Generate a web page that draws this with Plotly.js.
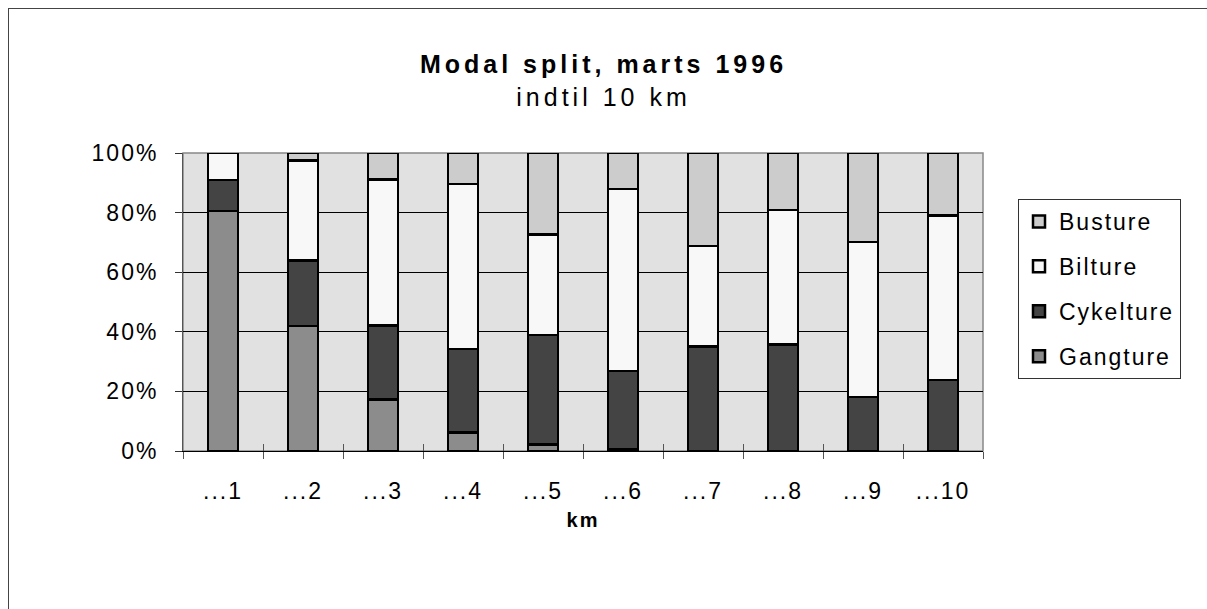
<!DOCTYPE html>
<html>
<head>
<meta charset="utf-8">
<script src="https://cdn.plot.ly/plotly-3.0.1.min.js"></script>
<style>
  html, body { margin: 0; padding: 0; background: #fff; }
  #frame { position: absolute; left: 8px; top: 8px; width: 1400px; height: 800px; border: 1px solid #444; }
  #chart { position: absolute; left: 0; top: 0; width: 1207px; height: 609px; }
  text { letter-spacing: 2px; }
  .gtitle, .gtitle tspan { letter-spacing: 4px; }
</style>
</head>
<body>
<div id="frame"></div>
<div id="chart"></div>
<script>
const categories = ['...1', '...2', '...3', '...4', '...5', '...6', '...7', '...8', '...9', '...10'];
const gangture  = [80.6, 42.0, 17.2, 6.2, 2.1, 0.5, null, null, null, null];
const cykelture = [10.4, 21.9, 24.9, 28.1, 36.9, 26.4, 35.1, 35.8, 18.2, 23.8];
const bilture   = [9.0, 33.6, 49.0, 55.3, 33.7, 61.1, 33.7, 45.0, 52.0, 55.3];
const busture   = [null, 2.5, 8.9, 10.4, 27.3, 12.0, 31.2, 19.2, 29.8, 20.9];
const yTicks = [0, 20, 40, 60, 80, 100];

const series = [
  {name: 'Gangture', y: gangture, color: '#8c8c8c', rank: 4},
  {name: 'Cykelture', y: cykelture, color: '#444444', rank: 3},
  {name: 'Bilture', y: bilture, color: '#f8f8f8', rank: 2},
  {name: 'Busture', y: busture, color: '#cccccc', rank: 1}
];

const font = 'Liberation Sans, Arial, sans-serif';

const traces = series.map(s => ({
  type: 'bar', name: s.name, x: categories, y: s.y,
  legendgroup: s.name, legendrank: s.rank,
  marker: {color: s.color, line: {color: '#000', width: 2.5}},
  hoverinfo: 'skip'
}));
// overlay axis to get ticks crossing the x axis line
traces.push({type: 'bar', x: categories, y: categories.map(() => null), xaxis: 'x2', showlegend: false, hoverinfo: 'skip'});

const layout = {
  width: 1207, height: 609,
  paper_bgcolor: 'rgba(0,0,0,0)',
  plot_bgcolor: '#e1e1e1',
  margin: {l: 183, r: 224, t: 153, b: 158},
  barmode: 'stack',
  bargap: 0.62,
  showlegend: true,
  font: {family: font, size: 23, color: '#000'},
  title: {
    text: '<b>Modal split, marts 1996</b><br>indtil 10 km',
    font: {family: font, size: 25, color: '#000'},
    x: 0.5, xref: 'container', xanchor: 'center',
    y: 1 - 73/609, yref: 'container', yanchor: 'top'
  },
  xaxis: {
    type: 'category', categoryorder: 'array', categoryarray: categories,
    range: [-0.5, 9.5],
    showline: true, linecolor: '#000', linewidth: 1,
    ticks: 'outside', ticklen: 7, tickcolor: '#555', tickwidth: 1,
    tickson: 'boundaries', showgrid: false,
    tickfont: {family: font, size: 23, color: '#000'},
    ticklabelstandoff: 19,
    title: {text: '<b>km</b>', font: {family: font, size: 20, color: '#000'}, standoff: 10},
    fixedrange: true
  },
  xaxis2: {
    type: 'category', categoryorder: 'array', categoryarray: categories,
    range: [-0.5, 9.5], overlaying: 'x', anchor: 'y', side: 'bottom',
    ticks: 'inside', ticklen: 7, tickcolor: '#555', tickwidth: 1,
    tickson: 'boundaries', showgrid: false, showticklabels: false, showline: false,
    fixedrange: true
  },
  yaxis: {
    range: [0, 100], tickvals: yTicks, ticktext: yTicks.map(v => v + '%'),
    showline: true, linecolor: '#555', linewidth: 1,
    ticks: 'outside', ticklen: 7, tickcolor: '#333',
    showgrid: true, gridcolor: '#000', gridwidth: 1,
    zeroline: false,
    tickfont: {family: font, size: 23, color: '#000'},
    ticklabelstandoff: 12,
    fixedrange: true
  },
  legend: {
    x: (1018 - 183) / 800, xanchor: 'left',
    y: (451 - 199) / 298, yanchor: 'top',
    traceorder: 'grouped', tracegroupgap: 12,
    bgcolor: '#fff', bordercolor: '#333', borderwidth: 1,
    font: {family: font, size: 23, color: '#000'}
  },
  shapes: [
    {type: 'rect', xref: 'paper', yref: 'paper', x0: 0, x1: 1, y0: 0, y1: 1,
     line: {color: '#888', width: 1.5}, layer: 'below'}
  ]
};

Plotly.newPlot('chart', traces, layout, {displayModeBar: false, staticPlot: true});
</script>
</body>
</html>
